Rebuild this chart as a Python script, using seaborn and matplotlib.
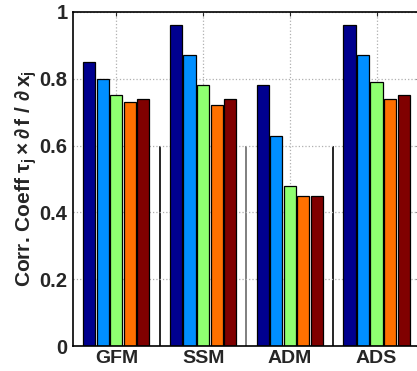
import matplotlib
matplotlib.use('Agg')
import matplotlib.pyplot as plt
import numpy as np
import pandas as pd
import seaborn as sns

models = ['GFM', 'SSM', 'ADM', 'ADS']
series = ['s1', 's2', 's3', 's4', 's5']
s1 = [0.85, 0.96, 0.78, 0.96]
s2 = [0.80, 0.87, 0.63, 0.87]
s3 = [0.75, 0.78, 0.48, 0.79]
s4 = [0.73, 0.72, 0.45, 0.74]
s5 = [0.74, 0.74, 0.45, 0.75]
colors = ['#00008f', '#008fff', '#8fff70', '#ff7000', '#800000']

rows = []
for name, vals in zip(series, [s1, s2, s3, s4, s5]):
	for m, v in zip(models, vals):
		rows.append({'model': m, 'series': name, 'value': v})
df = pd.DataFrame(rows)

sns.set_style('white')
plt.rcParams['font.family'] = ['Liberation Sans', 'DejaVu Sans']
plt.rcParams['mathtext.fontset'] = 'custom'
plt.rcParams['mathtext.rm'] = 'Liberation Sans:bold'
plt.rcParams['mathtext.it'] = 'Liberation Sans:bold'
plt.rcParams['mathtext.bf'] = 'Liberation Sans:bold'

fig = plt.figure(figsize=(4.17, 3.71), dpi=100)
ax = fig.add_axes([0.175, 0.067, 0.832, 0.901])

sns.barplot(data=df, x='model', y='value', hue='series', palette=colors,
	saturation=1, width=0.78, gap=0.1, edgecolor='black', linewidth=0.9,
	legend=False, ax=ax)

# thin separators between groups
ax.vlines([0.5, 1.5, 2.5], 0, 0.6, colors=['black', 'dimgray', 'black'], linewidth=1.2, zorder=0.5)

ax.set_xlim(-0.5, 3.5)
ax.set_ylim(0, 1)
ax.set_yticks([0, 0.2, 0.4, 0.6, 0.8, 1])
ax.set_yticklabels(['0', '0.2', '0.4', '0.6', '0.8', '1'])
ax.grid(True, linestyle=':', color='#b0b0b0', linewidth=0.9)
ax.set_axisbelow(True)
ax.tick_params(direction='in', top=True, right=True, length=3)
ax.tick_params(axis='y', labelsize=14.5, pad=4)
ax.tick_params(axis='x', labelsize=14, pad=3)
for lab in ax.get_xticklabels() + ax.get_yticklabels():
	lab.set_fontweight('bold')
for sp in ax.spines.values():
	sp.set_color('black')
	sp.set_linewidth(1.2)

ax.set_xlabel('')
ax.set_ylabel(r'Corr. Coeff $\tau_j \times \partial\, f\ /\ \partial\, x_j$',
	fontsize=15, fontweight='bold', labelpad=0)

fig.savefig('out.png', dpi=100)
